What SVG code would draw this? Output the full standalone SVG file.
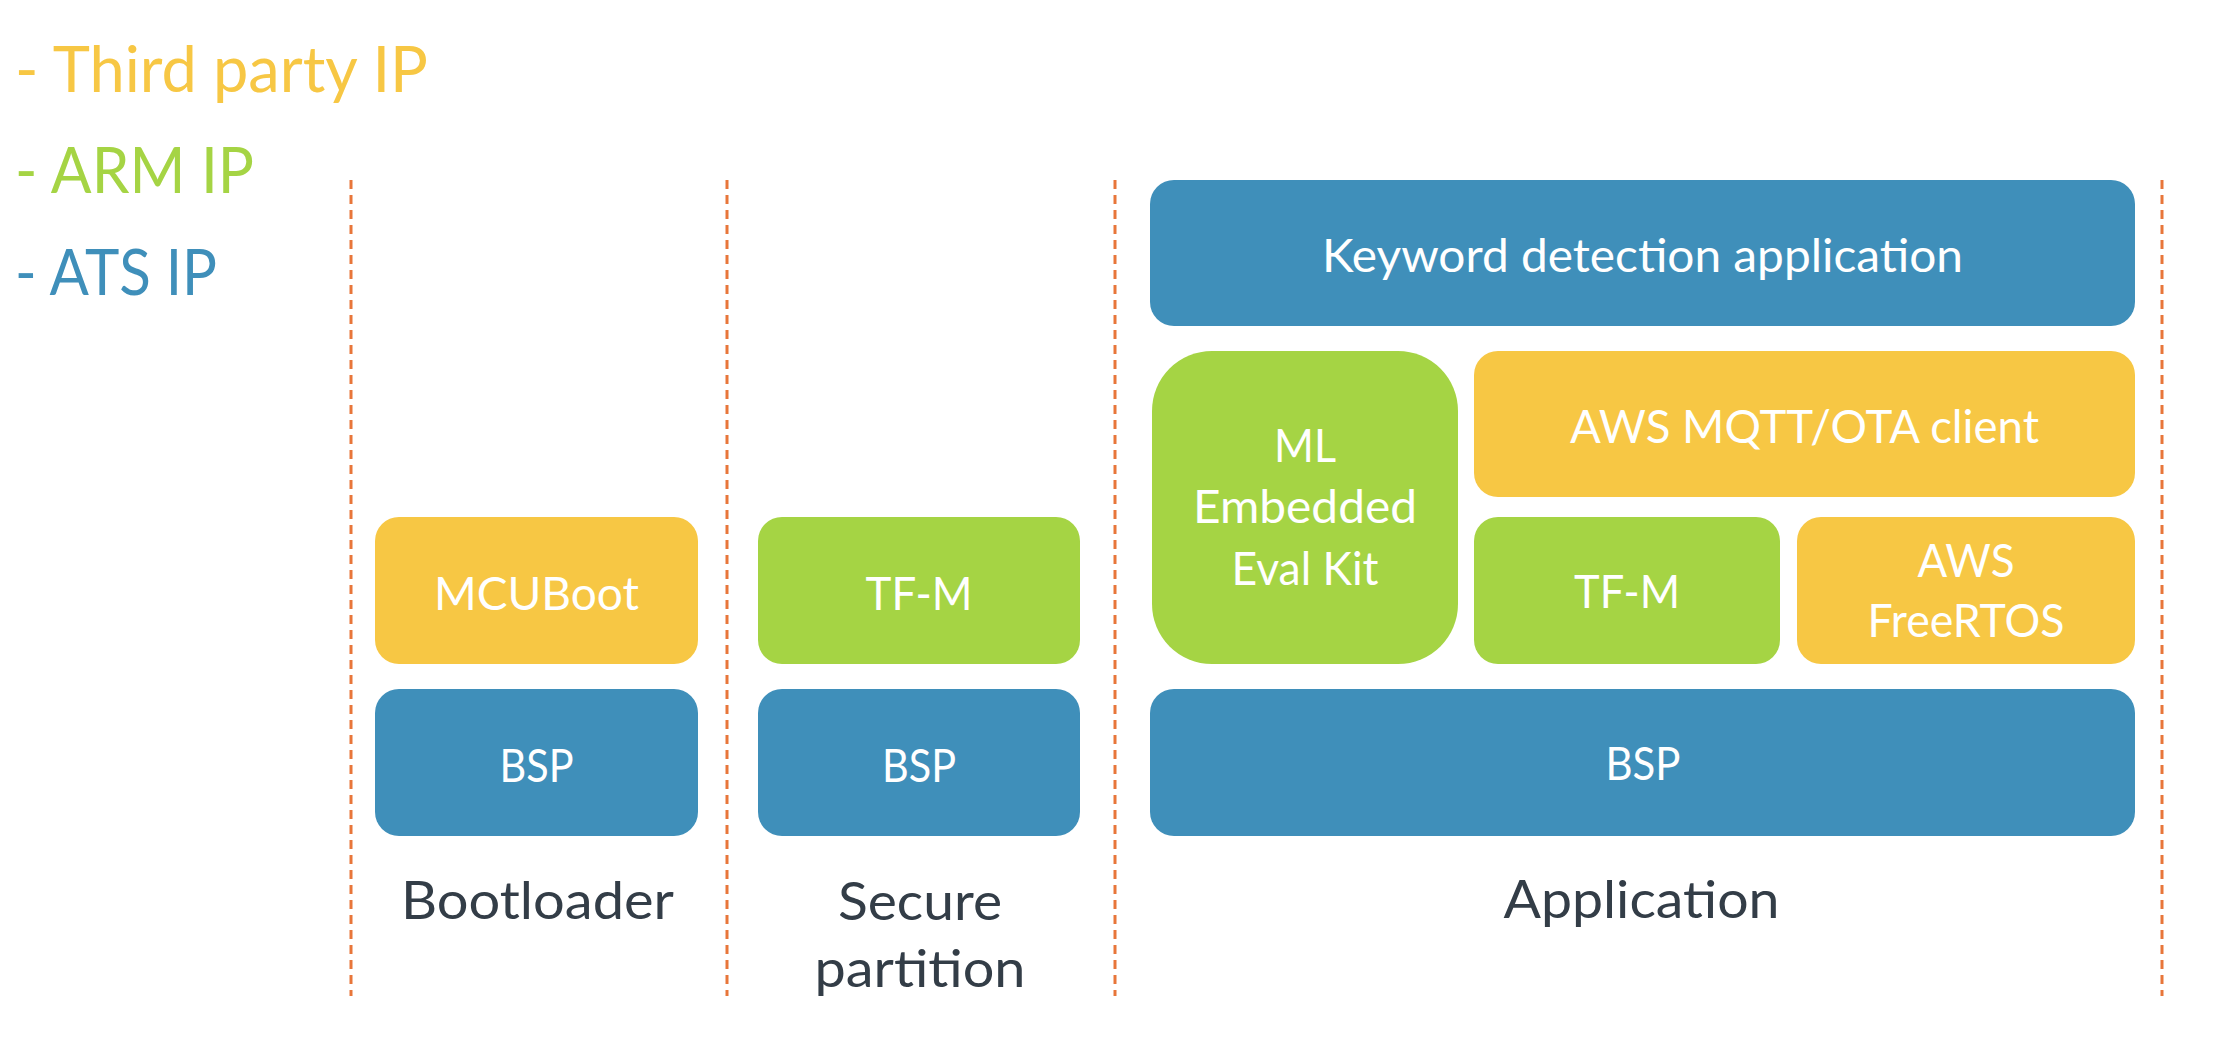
<svg xmlns="http://www.w3.org/2000/svg" width="2216" height="1044" viewBox="0 0 2216 1044">
<style>
.blue{fill:#3F8FBA}
.yellow{fill:#F7C744}
.green{fill:#A5D444}
.lbl{font-family:Lato,"Open Sans","Liberation Sans",sans-serif;font-size:47px;fill:#FFFFFF;text-anchor:middle}
.cap{font-family:Lato,"Open Sans","Liberation Sans",sans-serif;font-size:53px;fill:#333D47;text-anchor:middle}
.leg{font-family:Lato,"Open Sans","Liberation Sans",sans-serif;font-size:63px}
.sep{stroke:#E8763A;stroke-width:3;stroke-dasharray:9 6;fill:none}
</style>
<rect width="2216" height="1044" fill="#FFFFFF"/>
<g id="legend">
<text class="leg" x="15" y="92" fill="#F7C744" textLength="413" lengthAdjust="spacingAndGlyphs">- Third party IP</text>
<text class="leg" x="15" y="193" fill="#A5D444" textLength="239" lengthAdjust="spacingAndGlyphs">- ARM IP</text>
<text class="leg" x="15" y="295" fill="#3F8FBA" textLength="202" lengthAdjust="spacingAndGlyphs">- ATS IP</text>
</g>
<g id="connectors">
<line class="sep" x1="351" y1="180" x2="351" y2="996"/>
<line class="sep" x1="727" y1="180" x2="727" y2="996"/>
<line class="sep" x1="1115" y1="180" x2="1115" y2="996"/>
<line class="sep" x1="2162" y1="180" x2="2162" y2="996"/>
</g>
<g id="mcuboot"><rect class="yellow" x="375" y="517" width="323" height="147" rx="24"/><text class="lbl" x="536.5" y="610" textLength="205" lengthAdjust="spacingAndGlyphs">MCUBoot</text></g>
<g id="bsp-boot"><rect class="blue" x="375" y="689" width="323" height="147" rx="24"/><text class="lbl" x="536.5" y="782" textLength="74" lengthAdjust="spacingAndGlyphs">BSP</text></g>
<g id="tfm-secure"><rect class="green" x="758" y="517" width="322" height="147" rx="24"/><text class="lbl" x="919" y="610" textLength="107" lengthAdjust="spacingAndGlyphs">TF-M</text></g>
<g id="bsp-secure"><rect class="blue" x="758" y="689" width="322" height="147" rx="24"/><text class="lbl" x="919" y="782" textLength="74" lengthAdjust="spacingAndGlyphs">BSP</text></g>
<g id="keyword"><rect class="blue" x="1150" y="180" width="985" height="146" rx="24"/><text class="lbl" x="1642.5" y="272" textLength="641" lengthAdjust="spacingAndGlyphs">Keyword detection application</text></g>
<g id="ml"><rect class="green" x="1152" y="351" width="306" height="313" rx="60"/>
<text class="lbl" x="1305" y="462" textLength="62" lengthAdjust="spacingAndGlyphs">ML</text>
<text class="lbl" x="1305" y="523" textLength="224" lengthAdjust="spacingAndGlyphs">Embedded</text>
<text class="lbl" x="1305" y="585" textLength="147" lengthAdjust="spacingAndGlyphs">Eval Kit</text></g>
<g id="mqtt"><rect class="yellow" x="1474" y="351" width="661" height="146" rx="24"/><text class="lbl" x="1804.5" y="443" textLength="469" lengthAdjust="spacingAndGlyphs">AWS MQTT/OTA client</text></g>
<g id="tfm-app"><rect class="green" x="1474" y="517" width="306" height="147" rx="24"/><text class="lbl" x="1627" y="608" textLength="106" lengthAdjust="spacingAndGlyphs">TF-M</text></g>
<g id="freertos"><rect class="yellow" x="1797" y="517" width="338" height="147" rx="24"/>
<text class="lbl" x="1966" y="577" textLength="97" lengthAdjust="spacingAndGlyphs">AWS</text>
<text class="lbl" x="1966" y="637" textLength="197" lengthAdjust="spacingAndGlyphs">FreeRTOS</text></g>
<g id="bsp-app"><rect class="blue" x="1150" y="689" width="985" height="147" rx="24"/><text class="lbl" x="1643" y="780" textLength="75" lengthAdjust="spacingAndGlyphs">BSP</text></g>
<g id="captions">
<text class="cap" x="537.5" y="919" textLength="273" lengthAdjust="spacingAndGlyphs">Bootloader</text>
<text class="cap" x="920" y="920" textLength="164" lengthAdjust="spacingAndGlyphs">Secure</text>
<text class="cap" x="920" y="987" textLength="211" lengthAdjust="spacingAndGlyphs">partition</text>
<text class="cap" x="1641.5" y="918" textLength="276" lengthAdjust="spacingAndGlyphs">Application</text>
</g>
</svg>
